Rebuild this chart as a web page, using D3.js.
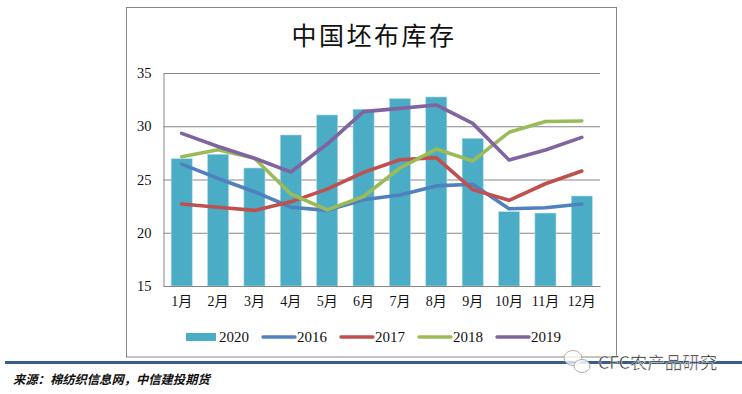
<!DOCTYPE html>
<html>
<head>
<meta charset="utf-8">
<title>中国坯布库存</title>
<script src="https://cdnjs.cloudflare.com/ajax/libs/d3/7.8.5/d3.min.js"></script>
<style>
    html, body { margin: 0; padding: 0; background: #fff; }
    svg { display: block; }
    text { font-family: "Liberation Serif", "Noto Sans CJK SC", serif; fill: #111; }
</style>
</head>
<body>
<div id="chart"></div>
<script>
// values
var months = ['1月','2月','3月','4月','5月','6月','7月','8月','9月','10月','11月','12月'];
var yTicks = [15, 20, 25, 30, 35];
var values2020 = [26.95, 27.37, 26.08, 29.18, 31.06, 31.6, 32.6, 32.75, 28.87, 21.98, 21.85, 23.45];
var values2016 = [26.45, 25.1, 23.85, 22.4, 22.1, 23.1, 23.55, 24.4, 24.55, 22.25, 22.35, 22.7];
var values2017 = [22.7, 22.4, 22.1, 22.9, 24.1, 25.67, 26.86, 27.05, 24.05, 23.05, 24.6, 25.8];
var values2018 = [27.14, 27.8, 27.0, 23.64, 22.15, 23.4, 26.08, 27.86, 26.74, 29.43, 30.45, 30.5];
var values2019 = [29.33, 28.1, 27.0, 25.7, 28.33, 31.37, 31.68, 32.0, 30.27, 26.83, 27.77, 28.96];
var lineYears = ['2016', '2017', '2018', '2019'];
var lineValues = [values2016, values2017, values2018, values2019];
var lineColors = ['#4f81bd', '#c0504d', '#9bbb59', '#8064a2'];
var barColor = '#4bacc6';

var w = 742, h = 394,
    plot = {left: 163.5, right: 600, top: 73, bottom: 286};

var svg = d3.select('#chart').append('svg').attr('width', w).attr('height', h);

// outer chart frame
svg.append('rect').attr('x', 126.5).attr('y', 7.5).attr('width', 490).attr('height', 349.5)
   .attr('fill', '#fff').attr('stroke', '#868686').attr('stroke-width', 1);

svg.append('text').attr('x', 374).attr('y', 45).attr('text-anchor', 'middle')
   .attr('font-size', 25).style('letter-spacing', '2.5px').text('中国坯布库存');

var xScale = d3.scaleBand().domain(months).range([plot.left, plot.right]).paddingInner(0.42).paddingOuter(0.21);
var yScale = d3.scaleLinear().domain([15, 35]).range([plot.bottom, plot.top]);

// gridlines and y labels
var yAxis = svg.append('g').attr('transform', 'translate(' + plot.left + ',0)')
    .call(d3.axisLeft(yScale).tickValues(yTicks).tickSize(-(plot.right - plot.left)).tickPadding(12));
yAxis.select('.domain').attr('stroke', '#868686');
yAxis.selectAll('line').attr('stroke', '#868686').attr('stroke-width', 1);
yAxis.selectAll('text').attr('font-size', 14.5)
     .style('font-family', '"Liberation Serif", serif').attr('fill', '#1f2a55');

// bars
svg.append('g').selectAll('rect').data(values2020).enter().append('rect')
   .attr('x', function(d, i){ return xScale(months[i]); })
   .attr('y', function(d){ return yScale(d); })
   .attr('width', xScale.bandwidth())
   .attr('height', function(d){ return plot.bottom - yScale(d); })
   .attr('fill', barColor)
   .attr('stroke', '#b5dde8').attr('stroke-width', 0.6);

// bottom axis sits over the bars
var xAxis = svg.append('g').attr('transform', 'translate(0,' + plot.bottom + ')')
    .call(d3.axisBottom(xScale).tickSize(0).tickPadding(10));
xAxis.select('.domain').attr('stroke', '#868686');
xAxis.selectAll('text').attr('font-size', 14).attr('fill', '#111');

// lines
var line = d3.line()
    .x(function(d, i){ return xScale(months[i]) + xScale.bandwidth() / 2; })
    .y(function(d){ return yScale(d); });

svg.append('g').selectAll('path').data(lineValues).enter().append('path')
   .attr('d', line)
   .attr('fill', 'none')
   .attr('stroke', function(d, i){ return lineColors[i]; })
   .attr('stroke-width', 3.6)
   .attr('stroke-linecap', 'round')
   .attr('stroke-linejoin', 'round');

// legend
var legendY = 337;
svg.append('rect').attr('x', 186).attr('y', legendY - 4).attr('width', 30).attr('height', 8).attr('fill', barColor);
svg.append('text').attr('x', 219).attr('y', legendY + 5).attr('font-size', 15).text('2020');

var legendX = d3.scalePoint().domain(lineYears).range([263, 497]);
var items = svg.append('g').selectAll('g').data(lineYears).enter().append('g')
   .attr('transform', function(d){ return 'translate(' + legendX(d) + ',' + legendY + ')'; });
items.append('line').attr('x1', 0).attr('x2', 32)
   .attr('stroke', function(d, i){ return lineColors[i]; })
   .attr('stroke-width', 3.4).attr('stroke-linecap', 'round');
items.append('text').attr('x', 34).attr('y', 5).attr('font-size', 15).text(function(d){ return d; });

// rule and source note
svg.append('rect').attr('x', 5).attr('y', 361).attr('width', 737).attr('height', 3).attr('fill', '#385d8a');
svg.append('text').attr('x', 13).attr('y', 384).attr('font-size', 12.3)
   .attr('font-style', 'italic').attr('font-weight', 'bold').attr('fill', '#000')
   .text('来源：棉纺织信息网，中信建投期货');

// watermark
var mark = svg.append('g').attr('fill', '#fff').attr('stroke', '#999').attr('stroke-width', 0.8);
mark.append('ellipse').attr('cx', 573).attr('cy', 358).attr('rx', 9).attr('ry', 7.5).attr('fill-opacity', 0.75);
mark.append('ellipse').attr('cx', 582).attr('cy', 366).attr('rx', 8).attr('ry', 6.5).attr('fill-opacity', 0.85);
svg.append('text').attr('x', 598).attr('y', 369).attr('font-size', 17.5)
   .style('font-family', '"Noto Sans CJK SC", sans-serif')
   .attr('fill', '#8a8a8a').attr('stroke', '#fff').attr('stroke-width', 0.5)
   .text('CFC农产品研究');
</script>
</body>
</html>
